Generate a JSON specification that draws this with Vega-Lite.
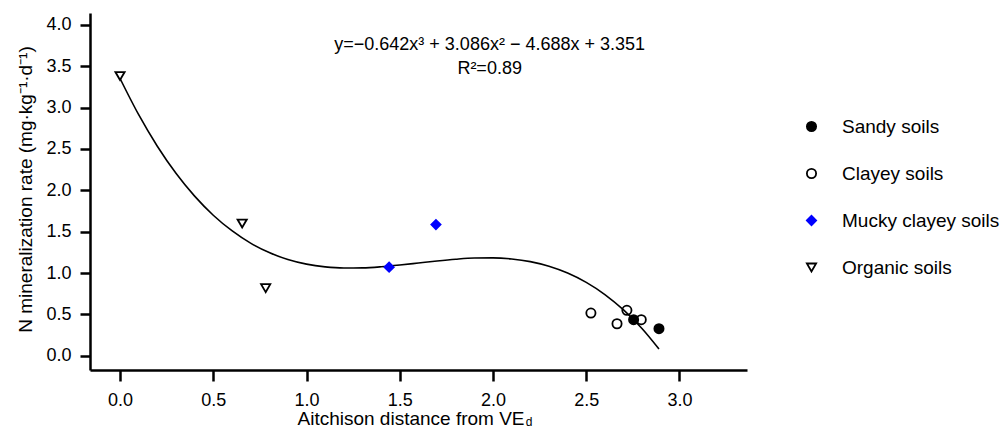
{
  "$schema": "https://vega.github.io/schema/vega-lite/v6.json",
  "width": 657,
  "height": 357,
  "autosize": {"type": "none"},
  "padding": {"left": 90, "top": 13, "right": 254, "bottom": 60},
  "background": "white",
  "config": {
    "view": {"stroke": null},
    "font": "Liberation Sans",
    "axis": {
      "domainColor": "black",
      "domainWidth": 2.5,
      "tickColor": "black",
      "tickWidth": 2.5,
      "labelFontSize": 18,
      "labelColor": "black",
      "labelFont": "Liberation Sans",
      "titleFont": "Liberation Sans",
      "titleFontSize": 19,
      "titleFontWeight": "normal",
      "titleColor": "black",
      "grid": false
    },
    "legend": {
      "labelFont": "Liberation Sans",
      "labelFontSize": 19,
      "labelColor": "black"
    }
  },
  "datasets": {
    "points": [
      {"soil": "Sandy soils", "x": 2.754, "y": 0.436},
      {"soil": "Sandy soils", "x": 2.89, "y": 0.327},
      {"soil": "Clayey soils", "x": 2.525, "y": 0.516},
      {"soil": "Clayey soils", "x": 2.665, "y": 0.387},
      {"soil": "Clayey soils", "x": 2.718, "y": 0.549},
      {"soil": "Clayey soils", "x": 2.795, "y": 0.436},
      {"soil": "Mucky clayey soils", "x": 1.443, "y": 1.07},
      {"soil": "Mucky clayey soils", "x": 1.694, "y": 1.586},
      {"soil": "Organic soils", "x": 0.0, "y": 3.38},
      {"soil": "Organic soils", "x": 0.655, "y": 1.598},
      {"soil": "Organic soils", "x": 0.781, "y": 0.817}
    ],
    "curve": [
      {"x": 0.0, "y": 3.351},
      {"x": 0.1, "y": 2.913},
      {"x": 0.2, "y": 2.532},
      {"x": 0.3, "y": 2.205},
      {"x": 0.4, "y": 1.929},
      {"x": 0.5, "y": 1.698},
      {"x": 0.6, "y": 1.511},
      {"x": 0.7, "y": 1.361},
      {"x": 0.8, "y": 1.247},
      {"x": 0.9, "y": 1.163},
      {"x": 1.0, "y": 1.107},
      {"x": 1.1, "y": 1.074},
      {"x": 1.2, "y": 1.06},
      {"x": 1.3, "y": 1.062},
      {"x": 1.4, "y": 1.075},
      {"x": 1.5, "y": 1.096},
      {"x": 1.6, "y": 1.121},
      {"x": 1.7, "y": 1.146},
      {"x": 1.8, "y": 1.167},
      {"x": 1.9, "y": 1.181},
      {"x": 2.0, "y": 1.183},
      {"x": 2.1, "y": 1.17},
      {"x": 2.2, "y": 1.138},
      {"x": 2.3, "y": 1.082},
      {"x": 2.4, "y": 1.0},
      {"x": 2.5, "y": 0.887},
      {"x": 2.6, "y": 0.74},
      {"x": 2.7, "y": 0.554},
      {"x": 2.8, "y": 0.326},
      {"x": 2.89, "y": 0.081}
    ],
    "labels": [
      {"eq": "y=−0.642x³ + 3.086x² − 4.688x + 3.351", "r2": "R²=0.89", "sub": "d"}
    ]
  },
  "layer": [
    {
      "data": {"name": "curve"},
      "mark": {"type": "line", "color": "black", "strokeWidth": 1.6, "interpolate": "monotone"},
      "encoding": {
        "x": {
          "field": "x",
          "type": "quantitative",
          "scale": {"domain": [-0.161, 3.362], "nice": false, "zero": false},
          "axis": {
            "values": [0, 0.5, 1, 1.5, 2, 2.5, 3],
            "format": ".1f",
            "tickSize": 11,
            "labelPadding": 10,
            "title": "Aitchison distance from VE",
            "titleAlign": "left",
            "titleAnchor": "start",
            "titleX": 207,
            "titleY": 48,
            "titleBaseline": "middle"
          }
        },
        "y": {
          "field": "y",
          "type": "quantitative",
          "scale": {"domain": [-0.172, 4.142], "nice": false, "zero": false},
          "axis": {
            "values": [0, 0.5, 1, 1.5, 2, 2.5, 3, 3.5, 4],
            "format": ".1f",
            "tickSize": 10,
            "labelPadding": 9,
            "title": "N mineralization rate (mg·kg⁻¹·d⁻¹)",
            "titleAngle": -90,
            "titleX": -65,
            "titleY": 176,
            "titleAlign": "center",
            "titleBaseline": "middle"
          }
        }
      }
    },
    {
      "data": {"name": "points"},
      "mark": {"type": "point", "filled": true, "strokeWidth": 1.8, "opacity": 1},
      "encoding": {
        "x": {"field": "x", "type": "quantitative"},
        "y": {"field": "y", "type": "quantitative"},
        "shape": {
          "field": "soil",
          "type": "nominal",
          "scale": {
            "domain": ["Sandy soils", "Clayey soils", "Mucky clayey soils", "Organic soils"],
            "range": ["circle", "circle", "diamond", "triangle-down"]
          },
          "legend": {
            "title": null,
            "orient": "none",
            "legendX": 712,
            "legendY": 104,
            "padding": 0,
            "rowPadding": 27,
            "labelOffset": 21,
            "symbolStrokeWidth": 1.8
          }
        },
        "fill": {
          "field": "soil",
          "type": "nominal",
          "scale": {
            "domain": ["Sandy soils", "Clayey soils", "Mucky clayey soils", "Organic soils"],
            "range": ["black", "transparent", "#0000ff", "transparent"]
          }
        },
        "stroke": {
          "field": "soil",
          "type": "nominal",
          "scale": {
            "domain": ["Sandy soils", "Clayey soils", "Mucky clayey soils", "Organic soils"],
            "range": ["black", "black", "#0000ff", "black"]
          }
        },
        "size": {
          "field": "soil",
          "type": "nominal",
          "scale": {
            "domain": ["Sandy soils", "Clayey soils", "Mucky clayey soils", "Organic soils"],
            "range": [85, 85, 110, 200]
          }
        }
      }
    },
    {
      "data": {"name": "labels"},
      "mark": {"type": "text", "fontSize": 18, "color": "black", "align": "center", "baseline": "middle"},
      "encoding": {
        "x": {"datum": 1.982},
        "y": {"datum": 3.757},
        "text": {"field": "eq"}
      }
    },
    {
      "data": {"name": "labels"},
      "mark": {"type": "text", "fontSize": 18, "color": "black", "align": "center", "baseline": "middle"},
      "encoding": {
        "x": {"datum": 1.982},
        "y": {"datum": 3.46},
        "text": {"field": "r2"}
      }
    },
    {
      "data": {"name": "labels"},
      "mark": {"type": "text", "fontSize": 12, "color": "black", "align": "left", "baseline": "middle"},
      "encoding": {
        "x": {"datum": 2.175},
        "y": {"datum": -0.8},
        "text": {"field": "sub"}
      }
    }
  ]
}
